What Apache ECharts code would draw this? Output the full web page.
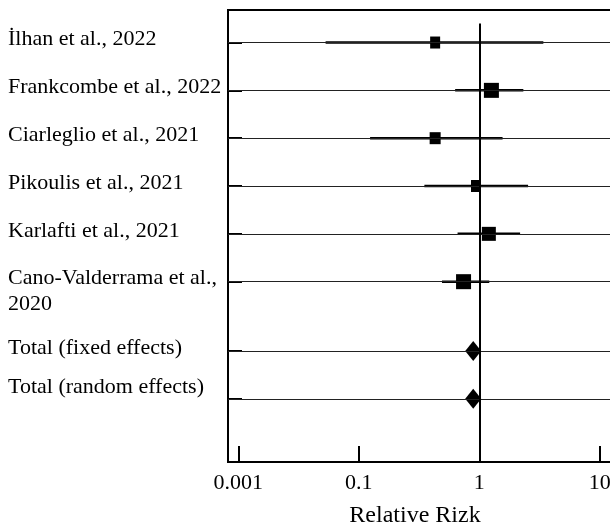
<!DOCTYPE html>
<html><head><meta charset="utf-8">
<script src="https://cdn.jsdelivr.net/npm/echarts@6/dist/echarts.min.js"></script>
<style>html,body{margin:0;padding:0;background:#fff}#c{width:610px;height:530px}</style>
</head><body><div id="c"></div>
<script>
// ---- data ----
const studies = ["İlhan et al., 2022", "Frankcombe et al., 2022", "Ciarleglio et al., 2021", "Pikoulis et al., 2021", "Karlafti et al., 2021", "Cano-Valderrama et al.,\n2020"];
const estimate = [0.43, 1.26, 0.43, 0.93, 1.20, 0.74];
const ciLow   = [0.053, 0.63, 0.124, 0.35, 0.66, 0.49];
const ciHigh  = [3.40, 2.32, 1.56, 2.54, 2.18, 1.21];
const totals = ["Total (fixed effects)", "Total (random effects)"];
const totalEstimate = [0.89, 0.89];
const tickValues = [0.01, 0.1, 1, 10];
const tickLabels = ["0.001", "0.1", "1", "10"];
const referenceValue = 1;
const axisTitle = "Relative Rizk";

// ---- layout / style ----
const markerSizes = [[10, 12], [15, 15], [11, 12], [9, 12], [14, 14], [15, 15]];
const studyRows = studies.map((_, i) => i + 1);
const totalRows = totals.map((_, i) => studies.length + 1.45 + i);
const allRows = studyRows.concat(totalRows);
const allNames = studies.concat(totals);
const Y_MIN = 0.32, Y_MAX = 9.77;
const FONT = "'Liberation Serif', 'Times New Roman', serif";

const chart = echarts.init(document.getElementById('c'));
chart.setOption({
  animation: false,
  backgroundColor: '#fff',
  grid: { left: 228, top: 10, width: 400, height: 452, show: true, borderColor: '#000', borderWidth: 2, containLabel: false, outerBoundsMode: 'none' },
  xAxis: {
    type: 'log', logBase: 10, min: 0.00821, max: 17.14,
    axisLine: { show: true, lineStyle: { color: '#000', width: 2 } },
    axisTick: { show: true, inside: true, length: 16, customValues: tickValues, lineStyle: { color: '#000', width: 2 } },
    axisLabel: {
      customValues: tickValues, margin: 10, fontSize: 22, fontFamily: FONT, color: '#000',
      formatter: v => { const i = tickValues.findIndex(t => Math.abs(Math.log10(t) - Math.log10(v)) < 1e-6); return i >= 0 ? tickLabels[i] : ''; }
    },
    splitLine: { show: false },
    name: axisTitle, nameLocation: 'middle', nameGap: 42,
    nameTextStyle: { fontSize: 24, fontFamily: FONT, color: '#000', padding: [0, 26, 0, 0] }
  },
  yAxis: {
    type: 'value', inverse: true, min: Y_MIN, max: Y_MAX,
    axisLine: { show: true, lineStyle: { color: '#000', width: 2 } },
    axisTick: { show: true, inside: true, length: 14, customValues: allRows, lineStyle: { color: '#000', width: 2 } },
    axisLabel: {
      customValues: allRows, align: 'left', margin: 220, fontSize: 22, lineHeight: 26,
      fontFamily: FONT, color: '#000', padding: [0, 0, 6, 0],
      rich: {
        up: { fontSize: 22, lineHeight: 26, fontFamily: FONT, color: '#000', padding: [0, 0, 18, 0] }
      },
      formatter: v => {
        const i = allRows.findIndex(r => Math.abs(r - v) < 1e-6);
        if (i < 0) return '';
        const n = allNames[i];
        if (n.indexOf('\n') >= 0) return '\n' + n;
        if (i === allRows.length - 1) return '{up|' + n + '}';
        return n;
      }
    },
    splitLine: { show: false }
  },
  series: [
    {
      type: 'custom',
      z: 3,
      data: studies.map((_, i) => [ciLow[i], ciHigh[i], studyRows[i]]),
      encode: { x: [0, 1], y: 2 },
      renderItem: (params, api) => {
        const a = api.coord([api.value(0), api.value(2)]);
        const b = api.coord([api.value(1), api.value(2)]);
        return { type: 'line', shape: { x1: a[0], y1: a[1], x2: b[0], y2: b[1] }, style: { stroke: '#000', lineWidth: 2.5 } };
      }
    },
    {
      type: 'scatter', z: 4, symbol: 'rect',
      itemStyle: { color: '#000', opacity: 1 },
      data: studies.map((_, i) => ({ value: [estimate[i], studyRows[i]], symbolSize: markerSizes[i] }))
    },
    {
      type: 'scatter', z: 4, symbol: 'diamond', symbolSize: [16, 20],
      itemStyle: { color: '#000', opacity: 1 },
      data: totals.map((_, i) => [totalEstimate[i], totalRows[i]]),
      markLine: {
        silent: true, symbol: 'none', label: { show: false }, animation: false,
        lineStyle: { color: '#222', width: 1.2, type: 'solid' },
        data: allRows.map(r => ({ yAxis: r })).concat([
          [{ coord: [referenceValue, 0.6], lineStyle: { color: '#000', width: 2, type: 'solid' } },
           { coord: [referenceValue, Y_MAX] }]
        ])
      }
    }
  ]
});
</script>
</body></html>
